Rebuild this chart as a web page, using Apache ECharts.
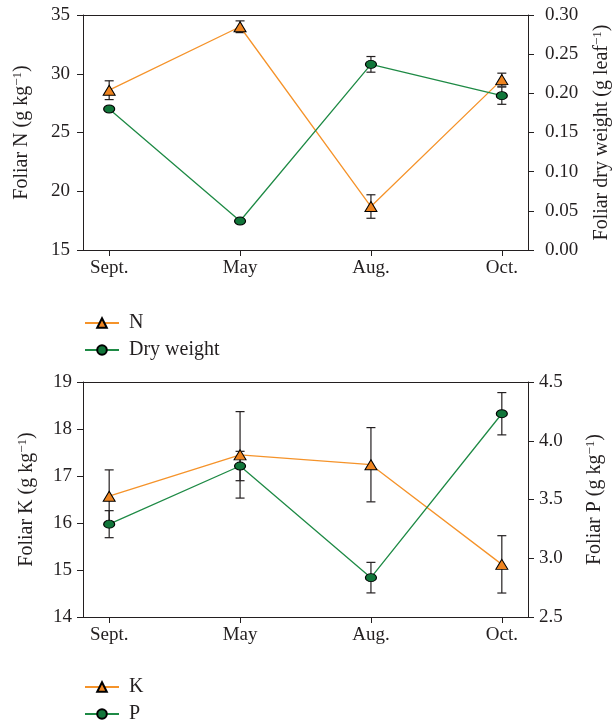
<!DOCTYPE html>
<html><head><meta charset="utf-8">
<script src="https://cdn.jsdelivr.net/npm/echarts@6/dist/echarts.min.js"></script>
<style>html,body{margin:0;padding:0;background:#fff}#c{width:612px;height:725px}</style>
</head><body><div id="c"></div>
<script>
const categories = ['Sept.', 'May', 'Aug.', 'Oct.'];
// top panel
const nValues = [28.6, 34.0, 18.7, 29.5];
const nErr = [0.8, 0.5, 1.0, 0.55];
const dwValues = [0.180, 0.037, 0.237, 0.197];
const dwErr = [0.0, 0.0, 0.010, 0.011];
// bottom panel
const kValues = [16.57, 17.45, 17.24, 15.12];
const kErr = [0.56, 0.92, 0.79, 0.61];
const pValues = [3.29, 3.785, 2.835, 4.23];
const pErr = [0.115, 0.125, 0.13, 0.18];

const FONT = 'Liberation Serif';
const INK = '#231F20';
const ORANGE_LINE = '#F5932A', ORANGE_FILL = '#EE8420';
const GREEN_LINE = '#1E8A45', GREEN_FILL = '#11763A';
const ELLIPSE = 'path://M0,4A5.5,4,0,1,1,11,4A5.5,4,0,1,1,0,4Z';

const pts = vals => vals.map((v, i) => [i, v]);
const errPts = (vals, errs) => vals.map((v, i) => [i, v - errs[i], v + errs[i]]);

function errSeries(vals, errs, xi, yi) {
  return {
    type: 'custom', xAxisIndex: xi, yAxisIndex: yi, z: 1, silent: true,
    data: errPts(vals, errs).filter(d => d[2] > d[1]),
    renderItem: function (params, api) {
      const lo = api.coord([api.value(0), api.value(1)]);
      const hi = api.coord([api.value(0), api.value(2)]);
      const w = 4.5;
      const st = { stroke: INK, lineWidth: 1.2 };
      return { type: 'group', children: [
        { type: 'line', shape: { x1: lo[0], y1: lo[1], x2: hi[0], y2: hi[1] }, style: st },
        { type: 'line', shape: { x1: lo[0] - w, y1: lo[1], x2: lo[0] + w, y2: lo[1] }, style: st },
        { type: 'line', shape: { x1: hi[0] - w, y1: hi[1], x2: hi[0] + w, y2: hi[1] }, style: st }
      ]};
    }
  };
}

function lineSeries(name, vals, xi, yi, tri) {
  return {
    type: 'line', name: name, xAxisIndex: xi, yAxisIndex: yi, z: 3,
    data: pts(vals),
    symbol: tri ? 'triangle' : ELLIPSE,
    symbolSize: tri ? [12, 10] : [11, 8],
    lineStyle: { color: tri ? ORANGE_LINE : GREEN_LINE, width: 1.3 },
    itemStyle: { color: tri ? ORANGE_FILL : GREEN_FILL, borderColor: '#000', borderWidth: 1 },
    emphasis: { disabled: true }
  };
}

function xAxes(gi) {
  return [{
    type: 'value', gridIndex: gi, position: 'bottom', min: -0.2, max: 3.2,
    splitLine: { show: false },
    axisLine: { onZero: false, lineStyle: { color: INK, width: 1 } },
    axisTick: { show: true, length: 6, lineStyle: { color: INK }, customValues: [0, 1, 2, 3] },
    axisLabel: { customValues: [0, 1, 2, 3], formatter: v => categories[Math.round(v)], color: INK, fontFamily: FONT, fontSize: 19, margin: 9 }
  }, {
    type: 'value', gridIndex: gi, position: 'top', min: -0.2, max: 3.2,
    splitLine: { show: false },
    axisLine: { onZero: false, lineStyle: { color: INK, width: 1 } },
    axisTick: { show: false }, axisLabel: { show: false }
  }];
}

function yAxis(gi, pos, min, max, interval, dec, nameMain, unit, nameGap, margin) {
  return {
    type: 'value', gridIndex: gi, position: pos, min: min, max: max, interval: interval,
    splitLine: { show: false },
    axisLine: { show: true, onZero: false, lineStyle: { color: INK, width: 1 } },
    axisTick: { show: true, length: 6, lineStyle: { color: INK } },
    axisLabel: { color: INK, fontFamily: FONT, fontSize: 19, margin: margin, formatter: v => v.toFixed(dec) },
    name: '{a|' + nameMain + ' (g ' + unit + '}{s|−1}{a|)}',
    nameLocation: 'middle', nameRotate: 90, nameGap: nameGap,
    nameTextStyle: { rich: {
      a: { fontFamily: FONT, fontSize: 20, color: INK, lineHeight: 22 },
      s: { fontFamily: FONT, fontSize: 13, color: INK, verticalAlign: 'top', lineHeight: 13 }
    } }
  };
}

const legendText = { fontFamily: FONT, fontSize: 20, color: INK, padding: [0, 0, 0, 5] };

const option = {
  animation: false,
  backgroundColor: '#fff',
  grid: [
    { left: 83, right: 84, top: 15, height: 235, outerBoundsMode: 'none', containLabel: false },
    { left: 83, right: 84, top: 382, height: 235, outerBoundsMode: 'none', containLabel: false }
  ],
  xAxis: [...xAxes(0), ...xAxes(1)],
  yAxis: [
    yAxis(0, 'left', 15, 35, 5, 0, 'Foliar N', 'kg', 50, 13),
    yAxis(0, 'right', 0, 0.30, 0.05, 2, 'Foliar dry weight', 'leaf', 63, 17),
    yAxis(1, 'left', 14, 19, 1, 0, 'Foliar K', 'kg', 45, 11),
    yAxis(1, 'right', 2.5, 4.5, 0.5, 1, 'Foliar P', 'kg', 56, 11)
  ],
  legend: [
    { data: ['N', 'Dry weight'], orient: 'vertical', left: 84, top: 313, padding: 0, itemWidth: 34, itemHeight: 12, itemGap: 7,
      textStyle: legendText },
    { data: ['K', 'P'], orient: 'vertical', left: 84, top: 677, padding: 0, itemWidth: 34, itemHeight: 12, itemGap: 7,
      textStyle: legendText }
  ],
  series: [
    errSeries(nValues, nErr, 0, 0),
    errSeries(dwValues, dwErr, 0, 1),
    lineSeries('N', nValues, 0, 0, true),
    lineSeries('Dry weight', dwValues, 0, 1, false),
    errSeries(kValues, kErr, 2, 2),
    errSeries(pValues, pErr, 2, 3),
    lineSeries('K', kValues, 2, 2, true),
    lineSeries('P', pValues, 2, 3, false)
  ]
};
const chart = echarts.init(document.getElementById('c'), null, { renderer: 'canvas' });
chart.setOption(option);
</script></body></html>
